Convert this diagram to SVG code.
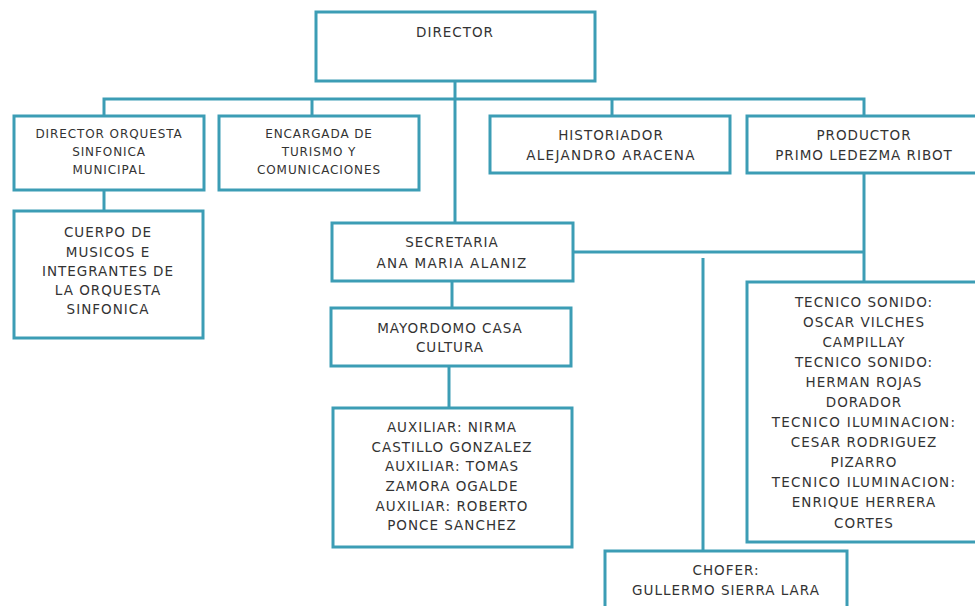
<svg xmlns="http://www.w3.org/2000/svg" width="975" height="606" viewBox="0 0 975 606">
<style>
.box{fill:#ffffff;stroke:#3c9db5;stroke-width:3}
.ln{fill:none;stroke:#3c9db5;stroke-width:3}
text{font-family:"DejaVu Sans","Liberation Sans",sans-serif;font-size:13.5px;fill:#333333;text-anchor:middle;letter-spacing:1px}
.s{font-size:12px;letter-spacing:0.9px}
.w{letter-spacing:1.3px}
</style>
<rect width="975" height="606" fill="#ffffff"/>
<g id="connectors">
<path class="ln" d="M455 81V225"/>
<path class="ln" d="M104 116V99H864V116"/>
<path class="ln" d="M312 99V116"/>
<path class="ln" d="M612 99V116"/>
<path class="ln" d="M104 190V211"/>
<path class="ln" d="M864 173V282"/>
<path class="ln" d="M573 252H864"/>
<path class="ln" d="M703 258V551"/>
<path class="ln" d="M452 281V308"/>
<path class="ln" d="M449 366V408"/>
</g>
<g id="director">
<rect class="box" x="316" y="12" width="279" height="69"/>
<text x="455" y="37">DIRECTOR</text>
</g>
<g id="orquesta">
<rect class="box" x="14" y="116" width="190" height="74"/>
<text class="s" x="109" y="138">DIRECTOR ORQUESTA</text>
<text class="s" x="109" y="156">SINFONICA</text>
<text class="s" x="109" y="174">MUNICIPAL</text>
</g>
<g id="encargada">
<rect class="box" x="219" y="116" width="200" height="74"/>
<text class="s" x="319" y="138">ENCARGADA DE</text>
<text class="s" x="319" y="156">TURISMO Y</text>
<text class="s" x="319" y="174">COMUNICACIONES</text>
</g>
<g id="historiador">
<rect class="box" x="490" y="116" width="240" height="57"/>
<text x="611" y="140">HISTORIADOR</text>
<text class="w" x="611" y="160">ALEJANDRO ARACENA</text>
</g>
<g id="productor">
<rect class="box" x="747" y="116" width="240" height="57"/>
<text x="864" y="140">PRODUCTOR</text>
<text x="864" y="160">PRIMO LEDEZMA RIBOT</text>
</g>
<g id="cuerpo">
<rect class="box" x="14" y="211" width="189" height="127"/>
<text x="108" y="237">CUERPO DE</text>
<text x="108" y="257">MUSICOS E</text>
<text x="108" y="276">INTEGRANTES DE</text>
<text x="108" y="295">LA ORQUESTA</text>
<text x="108" y="314">SINFONICA</text>
</g>
<g id="secretaria">
<rect class="box" x="332" y="223" width="241" height="58"/>
<text x="452" y="247">SECRETARIA</text>
<text class="w" x="452" y="268">ANA MARIA ALANIZ</text>
</g>
<g id="mayordomo">
<rect class="box" x="331" y="308" width="240" height="58"/>
<text x="450" y="333">MAYORDOMO CASA</text>
<text x="450" y="352">CULTURA</text>
</g>
<g id="auxiliares">
<rect class="box" x="333" y="408" width="239" height="139"/>
<text x="452" y="432">AUXILIAR: NIRMA</text>
<text x="452" y="452">CASTILLO GONZALEZ</text>
<text x="452" y="471">AUXILIAR: TOMAS</text>
<text x="452" y="491">ZAMORA OGALDE</text>
<text x="452" y="511">AUXILIAR: ROBERTO</text>
<text x="452" y="530">PONCE SANCHEZ</text>
</g>
<g id="tecnicos">
<rect class="box" x="747" y="282" width="240" height="260"/>
<text x="864" y="307">TECNICO SONIDO:</text>
<text x="864" y="327">OSCAR VILCHES</text>
<text x="864" y="347">CAMPILLAY</text>
<text x="864" y="367">TECNICO SONIDO:</text>
<text x="864" y="387">HERMAN ROJAS</text>
<text x="864" y="407">DORADOR</text>
<text class="w" x="864" y="427">TECNICO ILUMINACION:</text>
<text x="864" y="447">CESAR RODRIGUEZ</text>
<text x="864" y="467">PIZARRO</text>
<text class="w" x="864" y="487">TECNICO ILUMINACION:</text>
<text x="864" y="507">ENRIQUE HERRERA</text>
<text x="864" y="528">CORTES</text>
</g>
<g id="chofer">
<rect class="box" x="605" y="551" width="242" height="70"/>
<text x="726" y="575">CHOFER:</text>
<text x="726" y="595">GULLERMO SIERRA LARA</text>
</g>
</svg>
